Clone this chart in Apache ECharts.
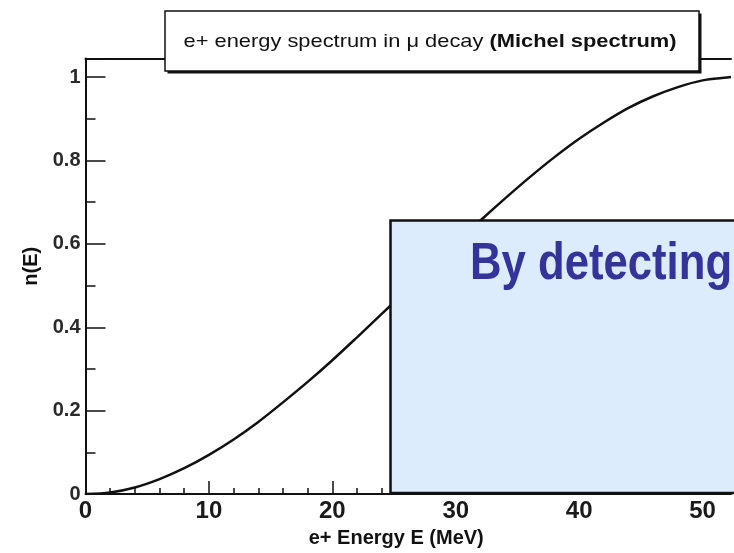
<!DOCTYPE html>
<html>
<head>
<meta charset="utf-8">
<script src="https://cdn.jsdelivr.net/npm/echarts@6/dist/echarts.min.js"></script>
<style>
  html, body { margin: 0; padding: 0; background: #fff; }
  #chart { width: 734px; height: 553px; }
</style>
</head>
<body>
<div id="chart"></div>
<script>
// e+ energy (MeV), read every 2 MeV
const energy = [0, 2, 4, 6, 8, 10, 12, 14, 16, 18, 20, 22, 24, 26, 28, 30, 32, 34, 36, 38, 40, 42, 44, 46, 48, 50, 52, 52.3]
// n(E)
const nE = [0, 0.004, 0.016, 0.036, 0.062, 0.094, 0.131, 0.173, 0.22, 0.269, 0.321, 0.376, 0.432, 0.488, 0.545, 0.601, 0.656, 0.709, 0.76, 0.808, 0.852, 0.891, 0.926, 0.954, 0.976, 0.992, 0.999, 1]

const xTicks = [0, 10, 20, 30, 40, 50]
const yTicks = [0, 0.2, 0.4, 0.6, 0.8, 1]

const titleText = 'e+ energy spectrum in \u03bc decay '
const titleBold = '(Michel spectrum)'
const overlayText = 'By detecting'

const myChart = echarts.init(document.getElementById('chart'), null, { renderer: 'canvas' })

const font = 'Liberation Sans, Arial, Helvetica, sans-serif'

const option = {
  animation: false,
  backgroundColor: '#ffffff',
  textStyle: { fontFamily: font },
  // frame runs off the right edge of the picture
  grid: { left: 85.5, top: 58.5, right: 0, bottom: 53.7 },
  xAxis: [
    {
      type: 'value',
      min: 0,
      max: 52.3,
      interval: 10,
      name: 'e+ Energy E (MeV)',
      nameLocation: 'middle',
      nameGap: 31,
      nameTextStyle: { fontSize: 20, fontWeight: 'bold', color: '#111', padding: [0, 24, 0, 0] },
      axisLine: { show: true, lineStyle: { color: '#111', width: 2 } },
      axisTick: { show: true, inside: true, length: 13, lineStyle: { color: '#111', width: 1.5 } },
      minorTick: { show: true, splitNumber: 5, length: 6, lineStyle: { color: '#111', width: 1.5 } },
      splitLine: { show: false },
      axisLabel: {
        margin: 5,
        fontSize: 24,
        fontWeight: 'bold',
        color: '#1a1a1a',
        formatter: v => (xTicks.indexOf(v) >= 0 ? String(v) : '')
      }
    },
    {
      // top edge of the frame
      type: 'value',
      position: 'top',
      min: 0,
      max: 52.3,
      axisLine: { show: true, lineStyle: { color: '#111', width: 2 } },
      axisTick: { show: false },
      axisLabel: { show: false },
      splitLine: { show: false }
    }
  ],
  yAxis: {
    type: 'value',
    min: 0,
    max: 1.0445,
    interval: 0.2,
    name: 'n(E)',
    nameLocation: 'middle',
    nameRotate: 90,
    nameGap: 43,
    nameTextStyle: { fontSize: 20, fontWeight: 'bold', color: '#111', padding: [0, 0, 0, 20] },
    axisLine: { show: true, lineStyle: { color: '#111', width: 2 } },
    axisTick: { show: true, inside: true, length: 20, lineStyle: { color: '#111', width: 1.5 } },
    minorTick: { show: true, splitNumber: 2, length: 10, lineStyle: { color: '#111', width: 1.5 } },
    splitLine: { show: false },
    axisLabel: {
      margin: 5,
      fontSize: 20,
      fontWeight: 'bold',
      color: '#2a2a2a',
      formatter: v => {
        const hit = yTicks.find(t => Math.abs(t - v) < 1e-6)
        return hit === undefined ? '' : String(hit)
      }
    }
  },
  series: [
    {
      name: 'n(E)',
      type: 'line',
      data: energy.map((e, i) => [e, nE[i]]),
      smooth: 0.3,
      showSymbol: false,
      lineStyle: { color: '#111', width: 2.5 },
      z: 3
    }
  ],
  graphic: [
    // title box with drop shadow
    { type: 'rect', z: 100, shape: { x: 167.5, y: 13.5, width: 534, height: 60 }, style: { fill: '#111' } },
    { type: 'rect', z: 101, shape: { x: 165, y: 11, width: 534, height: 60 }, style: { fill: '#fff', stroke: '#111', lineWidth: 1.5 } },
    {
      type: 'text', z: 102, x: 430, y: 42, scaleX: 1.15,
      style: {
        text: '{a|' + titleText + '}{b|' + titleBold + '}',
        align: 'center', verticalAlign: 'middle',
        rich: {
          a: { fontSize: 19, fontFamily: font, fill: '#111' },
          b: { fontSize: 19, fontFamily: font, fontWeight: 'bold', fill: '#111' }
        }
      }
    },
    // overlay box
    { type: 'rect', z: 100, shape: { x: 390.5, y: 220.5, width: 400, height: 272.5 }, style: { fill: '#ddecfd', stroke: '#111', lineWidth: 2.5 } },
    {
      type: 'text', z: 101, x: 470, y: 265, scaleX: 0.84,
      style: { text: overlayText, font: 'bold 52px ' + font, fill: '#333399', align: 'left', verticalAlign: 'middle' }
    }
  ]
}

myChart.setOption(option)
</script>
</body>
</html>
